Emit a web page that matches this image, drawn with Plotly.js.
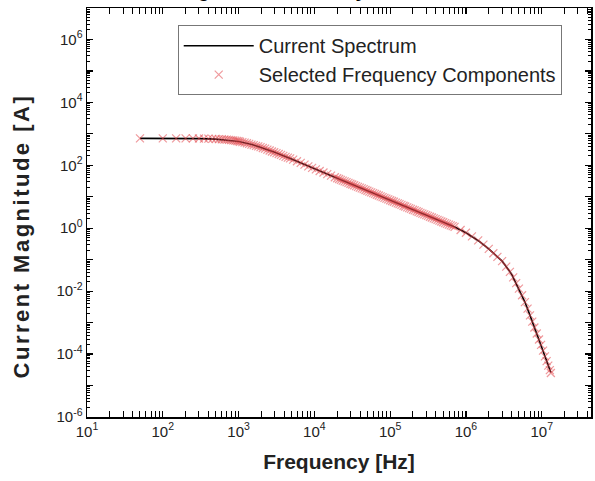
<!DOCTYPE html>
<html>
<head>
<meta charset="utf-8">
<script src="https://cdn.plot.ly/plotly-3.0.1.min.js"></script>
<style>
html,body{margin:0;padding:0;background:#fff;}
#chart{width:595px;height:481px;}
#chart g.annotation[data-index="1"] text{letter-spacing:2.5px;}
</style>
</head>
<body>
<div id="chart"></div>
<script>
// Current spectrum (line)
const spectrumFreq = [50, 70, 100, 200, 300, 500, 700, 1000, 1500, 2000, 3000, 5000, 7000, 1e4, 2e4, 3e4, 5e4, 7e4, 1e5, 2e5, 3e5, 5e5, 7e5, 1e6, 1.5e6, 2e6, 3e6, 4e6, 5e6, 6e6, 7e6, 8e6, 9e6, 1e7, 1.1e7, 1.2e7, 1.32e7];
const spectrumAmp = [720, 720, 720, 715, 705, 680, 640, 570, 460, 370, 260, 160, 112, 77.6, 38.8, 25.9, 15.5, 11.1, 7.76, 3.88, 2.59, 1.55, 1.11, 0.72, 0.38, 0.22, 0.09, 0.035, 0.012, 0.0045, 0.0017, 7.0e-4, 3.3e-4, 1.7e-4, 8.5e-5, 4.8e-5, 2.6e-5];

// Selected frequency components (markers)
const selFreq = [
  50, 100, 150, 200, 250, 300, 350, 400, 450, 500, 550, 600, 650, 700, 750, 800, 850, 900, 950, 1000,
  1047, 1122, 1202, 1288, 1380, 1479, 1585, 1698, 1820, 1950, 2089, 2239, 2399, 2570, 2754, 2951, 3162, 3388, 3631, 3890, 4169, 4467, 4786,
  5248, 5888, 6607, 7413, 8318, 9333, 10470, 11750, 13180, 14790, 16600, 18620,
  20000, 21200, 22400, 23700, 25100, 26600, 28200, 29900, 31600, 33500, 35500, 37600, 39800, 42200, 44700, 47300, 50100, 53100, 56200, 59600,
  63100, 66800, 70800, 75000, 79400, 84100, 89100, 94400, 100000, 106000, 112000, 119000, 126000, 133000, 141000, 150000, 158000, 168000, 178000, 188000,
  200000, 211000, 224000, 237000, 251000, 266000, 282000, 299000, 316000, 335000, 355000, 376000, 398000, 422000, 447000, 473000, 501000, 531000, 562000, 596000,
  631000, 668000, 708000,
  8.5e5, 1.0e6, 1.2e6, 1.45e6, 1.7e6, 2.0e6, 2.3e6, 2.6e6, 3.0e6, 3.4e6, 3.8e6, 4.2e6, 4.6e6, 5.0e6, 5.5e6, 6.0e6, 6.5e6, 7.0e6, 7.5e6, 8.0e6, 8.6e6, 9.2e6, 9.8e6, 1.04e7, 1.1e7, 1.16e7, 1.22e7, 1.28e7, 1.32e7
];
const selAmp = [
  720, 720, 720, 718, 716, 712, 708, 702, 696, 688, 680, 672, 662, 652, 642, 630, 618, 606, 594, 580,
  562, 543, 525, 501, 479, 457, 436, 417, 398, 380, 355, 339, 316, 295, 275, 260, 245, 229, 214, 200, 186, 176, 166,
  151, 135, 119, 105, 93, 83, 74, 66, 59, 52.5, 46.8, 41.7,
  38.8, 36.6, 34.6, 32.7, 30.9, 29.2, 27.5, 26.0, 24.6, 23.2, 21.9, 20.6, 19.5, 18.4, 17.4, 16.4, 15.5, 14.6, 13.8, 13.0,
  12.3, 11.6, 11.0, 10.3, 9.77, 9.23, 8.71, 8.22, 7.76, 7.32, 6.93, 6.52, 6.16, 5.83, 5.50, 5.17, 4.91, 4.62, 4.36, 4.13,
  3.88, 3.68, 3.46, 3.27, 3.09, 2.92, 2.75, 2.60, 2.46, 2.32, 2.19, 2.06, 1.95, 1.84, 1.74, 1.64, 1.55, 1.46, 1.38, 1.30,
  1.23, 1.16, 1.10,
  0.88, 0.72, 0.55, 0.41, 0.30, 0.22, 0.16, 0.123, 0.09, 0.060, 0.041, 0.0275, 0.018, 0.012, 0.0074, 0.0045, 0.0028, 0.0017, 0.00107, 7.0e-4, 4.5e-4, 2.9e-4, 1.95e-4, 1.29e-4, 8.5e-5, 6.0e-5, 4.3e-5, 3.1e-5, 2.5e-5
];

// Axis tick decades
const xTickExp = [1, 2, 3, 4, 5, 6, 7];
const yTickExp = [-6, -4, -2, 0, 2, 4, 6];
const yOddExp = [-5, -3, -1, 1, 3, 5, 7];

const xTickVals = xTickExp.map(e => Math.pow(10, e));
const xTickText = xTickExp.map(e => '10<sup>' + e + '</sup>');
const yTickVals = yTickExp.map(e => Math.pow(10, e));
const yTickText = yTickExp.map(e => '10<sup>' + e + '</sup>');
const yOddVals = yOddExp.map(e => Math.pow(10, e));

function minorVals(d0, d1) {
  const v = [];
  for (let d = d0; d <= d1; d++) for (let k = 2; k <= 9; k++) v.push(k * Math.pow(10, d));
  return v;
}

const FONT = 'Arial, "Liberation Sans", sans-serif';

const traces = [
  {
    x: spectrumFreq, y: spectrumAmp, type: 'scatter', mode: 'lines',
    name: 'Current Spectrum',
    line: {color: '#000000', width: 1.6}
  },
  {
    x: selFreq, y: selAmp, type: 'scatter', mode: 'markers',
    name: 'Selected Frequency Components',
    marker: {symbol: 'x-thin-open', size: 8, color: 'rgba(226,70,75,0.55)', line: {color: 'rgba(226,70,75,0.55)', width: 1.2}}
  },
  { x: [], y: [], type: 'scatter', mode: 'markers', yaxis: 'y2', showlegend: false, hoverinfo: 'skip' }
];

const axisCommon = {
  type: 'log',
  showline: true, linecolor: '#000', linewidth: 1.5, mirror: 'allticks',
  ticks: 'inside', ticklen: 6, tickwidth: 1.2, tickcolor: '#000',
  showgrid: false, zeroline: false,
  tickfont: {family: FONT, size: 15, color: '#222'}
};

const layout = {
  width: 595, height: 481,
  margin: {l: 87, r: 4, t: 8, b: 64},
  paper_bgcolor: '#fff', plot_bgcolor: '#fff',
  showlegend: true,
  annotations: [
    {
      text: '<b>Magnitude Summary</b>',
      font: {family: FONT, size: 20, color: '#000'},
      xref: 'paper', x: 0.361, xanchor: 'center',
      yref: 'paper', y: 1, yanchor: 'bottom', yshift: 5,
      showarrow: false
    },
    {
      text: '<b>Current Magnitude [A]</b>',
      font: {family: FONT, size: 22, color: '#222'},
      textangle: -90,
      xref: 'paper', x: -0.131, xanchor: 'center',
      yref: 'paper', y: 0.442, yanchor: 'middle',
      showarrow: false
    }
  ],
  xaxis: Object.assign({}, axisCommon, {
    range: [1, 7.65],
    tickmode: 'array', tickvals: xTickVals, ticktext: xTickText,
    minor: {tickmode: 'array', tickvals: minorVals(1, 7), ticks: 'inside', ticklen: 3, tickwidth: 1, tickcolor: '#000', showgrid: false},
    title: {text: 'Frequency [Hz]', font: {family: FONT, size: 21, color: '#222', weight: 'bold'}, standoff: 16}
  }),
  yaxis: Object.assign({}, axisCommon, {
    range: [-6, 7],
    tickmode: 'array', tickvals: yTickVals, ticktext: yTickText,
    minor: {tickmode: 'array', tickvals: minorVals(-6, 6), ticks: 'inside', ticklen: 3, tickwidth: 1, tickcolor: '#000', showgrid: false}
  }),
  yaxis2: {
    type: 'log', range: [-6, 7], overlaying: 'y', side: 'left', anchor: 'x',
    showline: false, mirror: 'allticks', showgrid: false, zeroline: false,
    ticks: 'inside', ticklen: 6, tickwidth: 1.2, tickcolor: '#000',
    tickmode: 'array', tickvals: yOddVals, showticklabels: false
  },
  legend: {
    x: 0.18, y: 0.958, xanchor: 'left', yanchor: 'top',
    bgcolor: '#fff', bordercolor: '#777', borderwidth: 1,
    font: {family: FONT, size: 20, color: '#222'},
    tracegroupgap: 0, itemwidth: 70
  }
};

Plotly.newPlot('chart', traces, layout, {displayModeBar: false, staticPlot: true});
</script>
</body>
</html>
